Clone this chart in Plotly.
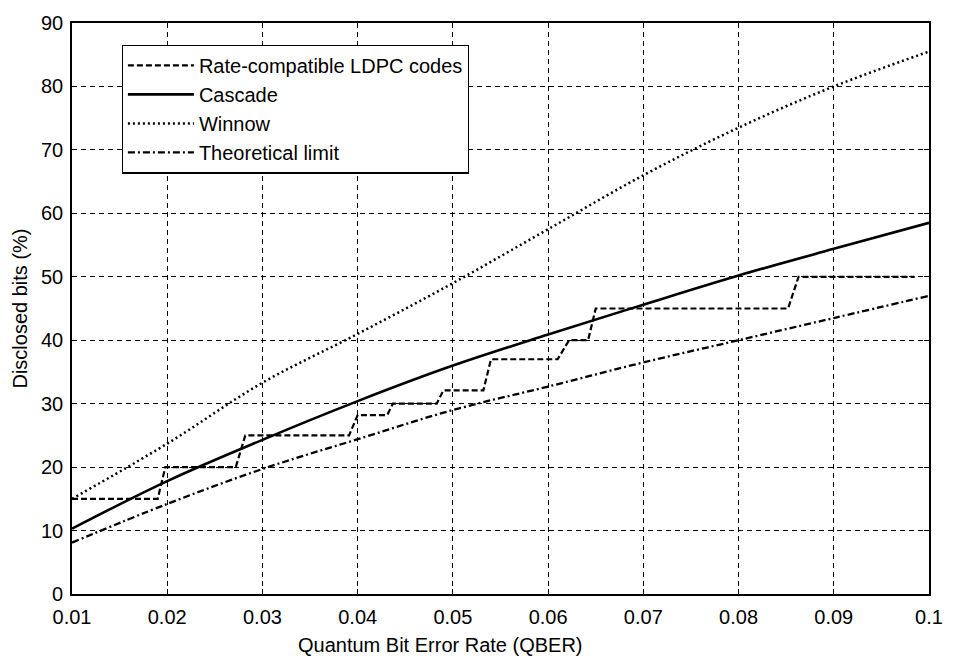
import plotly.graph_objects as go

# QBER grid for the smooth curves
qber = [0.01, 0.02, 0.03, 0.04, 0.05, 0.06, 0.07, 0.08, 0.09, 0.10]
cascade = [10.3, 17.8, 24.3, 30.4, 36.0, 40.9, 45.6, 50.2, 54.4, 58.5]
winnow = [15.0, 23.7, 33.3, 41.0, 49.0, 57.5, 66.0, 73.5, 80.0, 85.5]
theoretical = [8.1, 14.2, 19.7, 24.4, 29.0, 32.7, 36.5, 40.0, 43.5, 47.0]

# Rate-compatible LDPC codes (step curve)
ldpc_x = [0.010, 0.0190, 0.0198, 0.0272, 0.0282, 0.0391, 0.0400, 0.0431, 0.0437,
          0.0483, 0.0490, 0.0532, 0.0540, 0.0610, 0.0622, 0.0642, 0.0650, 0.0852,
          0.0863, 0.0985]
ldpc_y = [15.0, 15.0, 20.0, 20.0, 25.0, 25.0, 28.2, 28.2, 30.0,
          30.0, 32.1, 32.1, 37.0, 37.0, 40.0, 40.0, 45.0, 45.0,
          50.0, 50.0]

x_ticks = [0.01, 0.02, 0.03, 0.04, 0.05, 0.06, 0.07, 0.08, 0.09, 0.1]
x_tick_labels = ["0.01", "0.02", "0.03", "0.04", "0.05", "0.06", "0.07", "0.08", "0.09", "0.1"]
y_ticks = [0, 10, 20, 30, 40, 50, 60, 70, 80, 90]

FONT = "Liberation Sans, Arial, Helvetica, sans-serif"
FS = 20

fig = go.Figure()
fig.add_trace(go.Scatter(x=ldpc_x, y=ldpc_y, mode="lines", name="Rate-compatible LDPC codes",
                         legendgroup="a",
                         line=dict(color="black", width=2.2, dash="6px,3px")))
fig.add_trace(go.Scatter(x=qber, y=cascade, mode="lines", name="Cascade", legendgroup="b",
                         line=dict(color="black", width=2.6, shape="spline")))
fig.add_trace(go.Scatter(x=qber, y=winnow, mode="lines", name="Winnow", legendgroup="c",
                         line=dict(color="black", width=2.5, dash="2px,3px", shape="spline")))
fig.add_trace(go.Scatter(x=qber, y=theoretical, mode="lines", name="Theoretical limit",
                         legendgroup="d",
                         line=dict(color="black", width=2.3, dash="7px,3px,2px,3px", shape="spline")))

fig.update_layout(
    width=955, height=658,
    margin=dict(l=72, r=18, t=17, b=64),
    paper_bgcolor="white", plot_bgcolor="white",
    font=dict(family=FONT, size=FS, color="black"),
    showlegend=True,
    legend=dict(x=0.058, y=0.962, xanchor="left", yanchor="top",
                bgcolor="white", bordercolor="black", borderwidth=1.2,
                font=dict(family=FONT, size=FS, color="black"),
                tracegroupgap=0, itemwidth=66),
    annotations=[dict(text="Quantum Bit Error Rate (QBER)", xref="paper", yref="paper",
                      x=0.43, y=-0.09, xanchor="center", yanchor="middle",
                      showarrow=False, font=dict(family=FONT, size=FS, color="black"))],
)

axis_common = dict(showgrid=True, gridcolor="black", gridwidth=1.4, griddash="5px,4px",
                   zeroline=False, showline=True, linecolor="black", linewidth=1.6,
                   mirror="ticks", ticks="inside", ticklen=5, tickcolor="black",
                   tickfont=dict(family=FONT, size=FS, color="black"))

fig.update_xaxes(range=[0.01, 0.1], tickvals=x_ticks, ticktext=x_tick_labels,
                 ticklabelstandoff=4, **axis_common)
fig.update_yaxes(range=[0, 90], tickvals=y_ticks, ticklabelstandoff=3,
                 title=dict(text="Disclosed bits (%)", font=dict(family=FONT, size=FS), standoff=8),
                 **axis_common)

fig.write_html("out.html")
